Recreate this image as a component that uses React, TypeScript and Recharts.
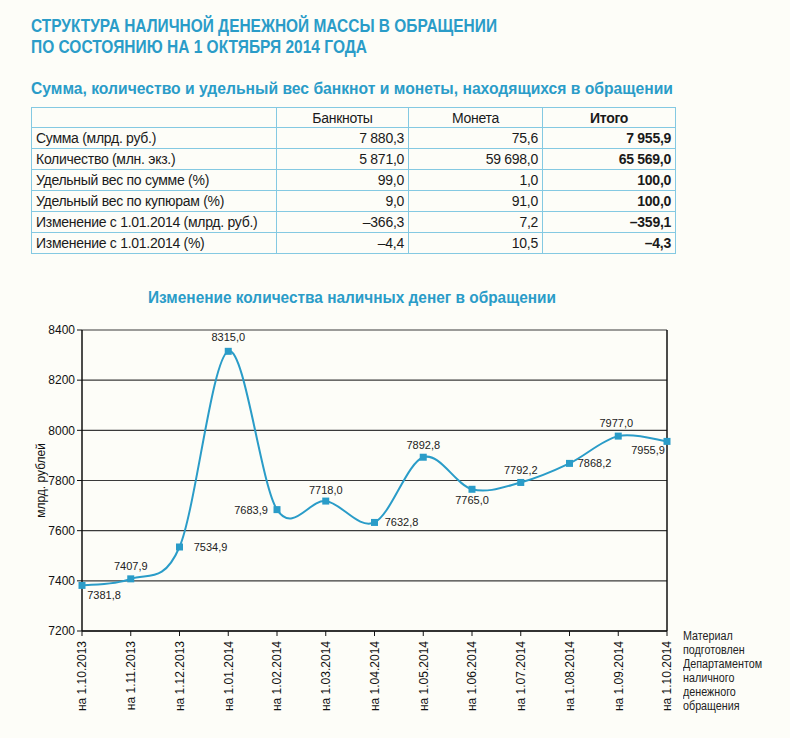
import React from "react";
import { LineChart, Line, XAxis, YAxis, CartesianGrid, ReferenceLine, LabelList } from "recharts";

const dates = [
  "на 1.10.2013", "на 1.11.2013", "на 1.12.2013", "на 1.01.2014", "на 1.02.2014",
  "на 1.03.2014", "на 1.04.2014", "на 1.05.2014", "на 1.06.2014", "на 1.07.2014",
  "на 1.08.2014", "на 1.09.2014", "на 1.10.2014",
];
const cashValues = [7381.8, 7407.9, 7534.9, 8315.0, 7683.9, 7718.0, 7632.8, 7892.8, 7765.0, 7792.2, 7868.2, 7977.0, 7955.9];
const yTicks = [7200, 7400, 7600, 7800, 8000, 8200, 8400];

const tableHeader = ["", "Банкноты", "Монета", "Итого"];
const tableRowLabels = [
  "Сумма (млрд. руб.)",
  "Количество (млн. экз.)",
  "Удельный вес по сумме (%)",
  "Удельный вес по купюрам (%)",
  "Изменение с 1.01.2014 (млрд. руб.)",
  "Изменение с 1.01.2014 (%)",
];
const banknotes = ["7 880,3", "5 871,0", "99,0", "9,0", "–366,3", "–4,4"];
const coins = ["75,6", "59 698,0", "1,0", "91,0", "7,2", "10,5"];
const totals = ["7 955,9", "65 569,0", "100,0", "100,0", "–359,1", "–4,3"];

const titleLines = ["СТРУКТУРА НАЛИЧНОЙ ДЕНЕЖНОЙ МАССЫ В ОБРАЩЕНИИ", "ПО СОСТОЯНИЮ НА 1 ОКТЯБРЯ 2014 ГОДА"];
const subtitle = "Сумма, количество и удельный вес банкнот и монеты, находящихся в обращении";
const chartTitle = "Изменение количества наличных денег в обращении";
const yAxisTitle = "млрд. рублей";
const noteLines = ["Материал", "подготовлен", "Департаментом", "наличного", "денежного", "обращения"];

// label placement (dx, dy) relative to marker — style only
const labelOffsets: [number, number][] = [
  [22, 10], [0, -13], [31, 0], [0, -14], [-26, 0], [0, -11], [27, 0],
  [0, -12], [0, 11], [0, -12], [25, 0], [-2, -13], [-19, 9],
];

const chartData = dates.map((d, i) => ({ date: d, value: cashValues[i] }));

const BLUE = "#2a9cc8";
const BORDER = "#84c9e2";
const ARIAL = '"Liberation Sans", Arial, sans-serif';

function catmullRom(context: any) {
  let pts: [number, number][] = [];
  return {
    areaStart() {},
    areaEnd() {},
    lineStart() {
      pts = [];
    },
    point(x: number, y: number) {
      pts.push([+x, +y]);
    },
    lineEnd() {
      const n = pts.length;
      if (!n) return;
      context.moveTo(pts[0][0], pts[0][1]);
      for (let i = 0; i < n - 1; i++) {
        const p0 = pts[i - 1] || pts[i];
        const p1 = pts[i];
        const p2 = pts[i + 1];
        const p3 = pts[i + 2] || p2;
        context.bezierCurveTo(
          p1[0] + (p2[0] - p0[0]) / 6,
          p1[1] + (p2[1] - p0[1]) / 6,
          p2[0] - (p3[0] - p1[0]) / 6,
          p2[1] - (p3[1] - p1[1]) / 6,
          p2[0],
          p2[1]
        );
      }
    },
  };
}

const SquareDot = (props: any) => {
  const { cx, cy, index } = props;
  if (cx == null || cy == null) return <g key={index} />;
  return <rect key={index} x={cx - 3.5} y={cy - 3.5} width={7} height={7} fill={BLUE} />;
};

const ValueLabel = (props: any) => {
  const { x, y, value } = props;
  let idx = props.index;
  if (idx == null) idx = cashValues.indexOf(value);
  const off = labelOffsets[idx] || [0, -12];
  return (
    <text
      x={x + off[0]}
      y={y + off[1]}
      textAnchor="middle"
      dominantBaseline="central"
      fontFamily={ARIAL}
      fontSize={11}
      fill="#222"
    >
      {Number(value).toFixed(1).replace(".", ",")}
    </text>
  );
};

const XTick = (props: any) => {
  const { x, y, payload } = props;
  return (
    <text
      x={x}
      y={y + 3}
      transform={`rotate(-90 ${x} ${y + 3})`}
      textAnchor="end"
      dy="0.36em"
      fontFamily={ARIAL}
      fontSize={12}
      fill="#111"
    >
      {payload.value}
    </text>
  );
};

const cellBase: React.CSSProperties = {
  borderBottom: `1.5px solid ${BORDER}`,
  borderRight: `1.5px solid ${BORDER}`,
  padding: "0 4px",
  fontFamily: ARIAL,
  fontSize: 14,
  letterSpacing: -0.28,
  color: "#1a1a1a",
  whiteSpace: "nowrap",
  boxSizing: "border-box",
};

export default function App() {
  return (
    <div style={{ position: "absolute", left: 0, top: 0, width: 790, height: 738, background: "#fdfdf8", overflow: "hidden" }}>
      <table
        style={{
          position: "absolute",
          left: 31,
          top: 107,
          width: 644,
          borderCollapse: "collapse",
          borderTop: `1.5px solid ${BORDER}`,
          borderLeft: `1.5px solid ${BORDER}`,
          tableLayout: "fixed",
        }}
      >
        <colgroup>
          <col style={{ width: 245 }} />
          <col style={{ width: 132 }} />
          <col style={{ width: 134 }} />
          <col style={{ width: 133 }} />
        </colgroup>
        <tbody>
          <tr style={{ height: 20 }}>
            {tableHeader.map((h, i) => (
              <td
                key={i}
                style={{ ...cellBase, height: 20, lineHeight: "18px", textAlign: "center", fontWeight: i === 3 ? 700 : 400 }}
              >
                {h}
              </td>
            ))}
          </tr>
          {tableRowLabels.map((lab, r) => (
            <tr key={r} style={{ height: 21 }}>
              <td style={{ ...cellBase, height: 21, lineHeight: "19px" }}>{lab}</td>
              <td style={{ ...cellBase, height: 21, lineHeight: "19px", textAlign: "right" }}>{banknotes[r]}</td>
              <td style={{ ...cellBase, height: 21, lineHeight: "19px", textAlign: "right" }}>{coins[r]}</td>
              <td style={{ ...cellBase, height: 21, lineHeight: "19px", textAlign: "right", fontWeight: 700 }}>{totals[r]}</td>
            </tr>
          ))}
        </tbody>
      </table>
      <div style={{ position: "absolute", left: 0, top: 0 }}>
        <LineChart
          width={790}
          height={738}
          data={chartData}
          margin={{ top: 330, right: 123, bottom: 27, left: 22 }}
        >
          <CartesianGrid vertical={false} stroke="#3a3a3a" strokeWidth={1.2} />
          <XAxis
            dataKey="date"
            height={80}
            interval={0}
            tick={<XTick />}
            tickSize={5}
            axisLine={{ stroke: "#111", strokeWidth: 1.5 }}
            tickLine={{ stroke: "#111" }}
          />
          <YAxis
            width={60}
            domain={[7200, 8400]}
            ticks={yTicks}
            interval={0}
            tickSize={5}
            tick={{ fontFamily: ARIAL, fontSize: 12, fill: "#111" }}
            axisLine={{ stroke: "#111", strokeWidth: 1.5 }}
            tickLine={{ stroke: "#111" }}
            label={{
              value: yAxisTitle,
              angle: -90,
              position: "insideLeft",
              offset: 19,
              style: { fontFamily: ARIAL, fontSize: 12, fill: "#111", textAnchor: "middle" },
            }}
          />
          <ReferenceLine x={dates[dates.length - 1]} stroke="#111" strokeWidth={1.5} />
          <Line
            dataKey="value"
            type={catmullRom as any}
            stroke={BLUE}
            strokeWidth={2}
            dot={<SquareDot />}
            activeDot={false}
            isAnimationActive={false}
          >
            <LabelList dataKey="value" content={<ValueLabel />} />
          </Line>
        </LineChart>
      </div>
      <svg width={790} height={310} style={{ position: "absolute", left: 0, top: 0, pointerEvents: "none" }}>
        <g fontFamily={ARIAL} fontWeight={700} fill={BLUE}>
          <text x={31} y={31.5} fontSize={18.5} textLength={466} lengthAdjust="spacingAndGlyphs">
            {titleLines[0]}
          </text>
          <text x={31} y={52.5} fontSize={18.5} textLength={336} lengthAdjust="spacingAndGlyphs">
            {titleLines[1]}
          </text>
          <text x={31} y={93.5} fontSize={16.5} textLength={642} lengthAdjust="spacingAndGlyphs">
            {subtitle}
          </text>
          <text x={148} y={302.5} fontSize={17} textLength={408} lengthAdjust="spacingAndGlyphs">
            {chartTitle}
          </text>
        </g>
      </svg>
      <div
        style={{
          position: "absolute",
          left: 683,
          top: 629,
          fontFamily: ARIAL,
          fontSize: 12.5,
          lineHeight: "14px",
          color: "#222",
          transform: "scaleX(0.86)",
          transformOrigin: "left top",
          whiteSpace: "nowrap",
        }}
      >
        {noteLines.map((l, i) => (
          <div key={i}>{l}</div>
        ))}
      </div>
    </div>
  );
}
